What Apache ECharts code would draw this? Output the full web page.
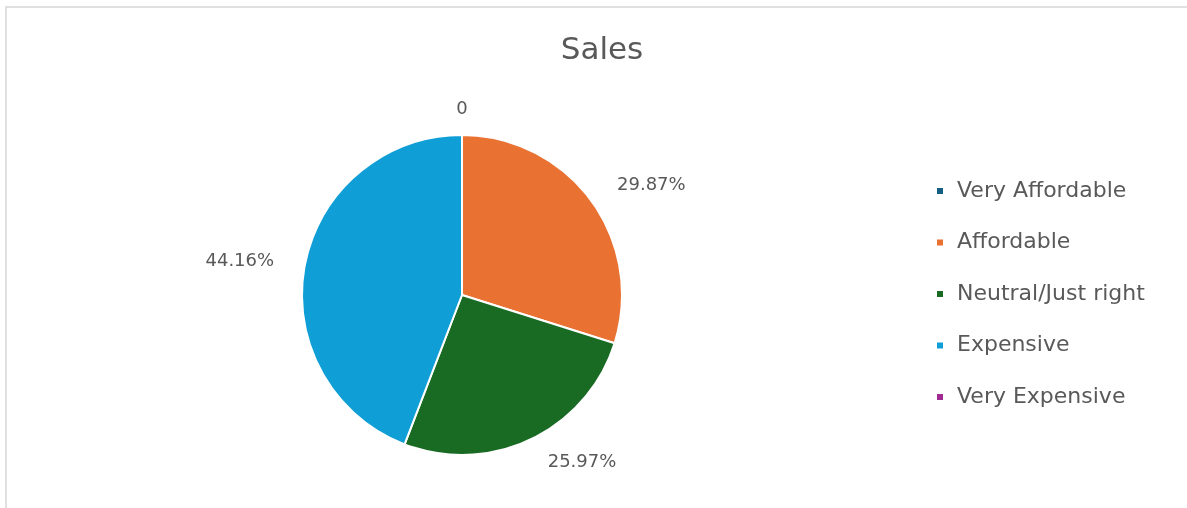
<!DOCTYPE html>
<html>
<head>
<meta charset="utf-8">
<script src="https://cdn.jsdelivr.net/npm/echarts@6/dist/echarts.min.js"></script>
<style>
  html, body { margin: 0; padding: 0; background: #fff; }
  #chart { width: 1187px; height: 508px; }
</style>
</head>
<body>
<div id="chart"></div>
<script>
// Price perception responses (counts; blank = no data label)
const categories = ['Very Affordable', 'Affordable', 'Neutral/Just right', 'Expensive', 'Very Expensive'];
const counts = [0, 23, 20, 34, null];
const colors = ['#156082', '#E97132', '#196B24', '#0F9ED5', '#A02B93'];

document.addEventListener('DOMContentLoaded', function () {
    const chart = echarts.init(document.getElementById('chart'));

    const pieData = categories.map(function (name, i) {
        const item = { name: name, value: counts[i] == null ? 0 : counts[i] };
        if (counts[i] == null) item.label = { show: false };
        return item;
    });

    chart.setOption({
        color: colors,
        textStyle: { fontFamily: 'DejaVu Sans' },
        graphic: [{
            type: 'rect',
            shape: { x: 6, y: 7, width: 1300, height: 600 },
            style: { fill: 'none', stroke: '#d6d6d6', lineWidth: 1.5 },
            silent: true
        }],
        title: {
            text: 'Sales',
            left: 597,
            top: 30,
            textAlign: 'center',
            textStyle: { color: '#595959', fontSize: 31, fontWeight: 'normal', fontFamily: 'DejaVu Sans' }
        },
        legend: {
            orient: 'vertical',
            left: 930,
            top: 175,
            itemGap: 29.5,
            itemWidth: 8,
            itemHeight: 8,
            icon: 'rect',
            data: categories,
            textStyle: { color: '#595959', fontSize: 22, padding: [0, 0, 0, 8] }
        },
        series: [{
            name: 'Sales',
            type: 'pie',
            center: [462, 295],
            radius: 160,
            startAngle: 90,
            clockwise: true,
            avoidLabelOverlap: false,
            itemStyle: { borderColor: '#fff', borderWidth: 2 },
            label: {
                show: true,
                position: 'outside',
                color: '#595959',
                fontSize: 18,
                formatter: function (p) {
                    if (p.value === 0) return '0';
                    return p.percent.toFixed(2) + '%';
                }
            },
            percentPrecision: 2,
            labelLine: { show: false, length: 26, length2: 0 },
            labelLayout: function (params) {
                // zero slice sits exactly at the top: centre its label
                if (params.dataIndex === 0 && params.labelLinePoints) {
                    return { x: params.labelLinePoints[2][0], align: 'center' };
                }
                return {};
            },
            emphasis: { scale: false },
            data: pieData
        }]
    });

    window.addEventListener('resize', function () {
        chart.resize();
    });
});
</script>
</body>
</html>
